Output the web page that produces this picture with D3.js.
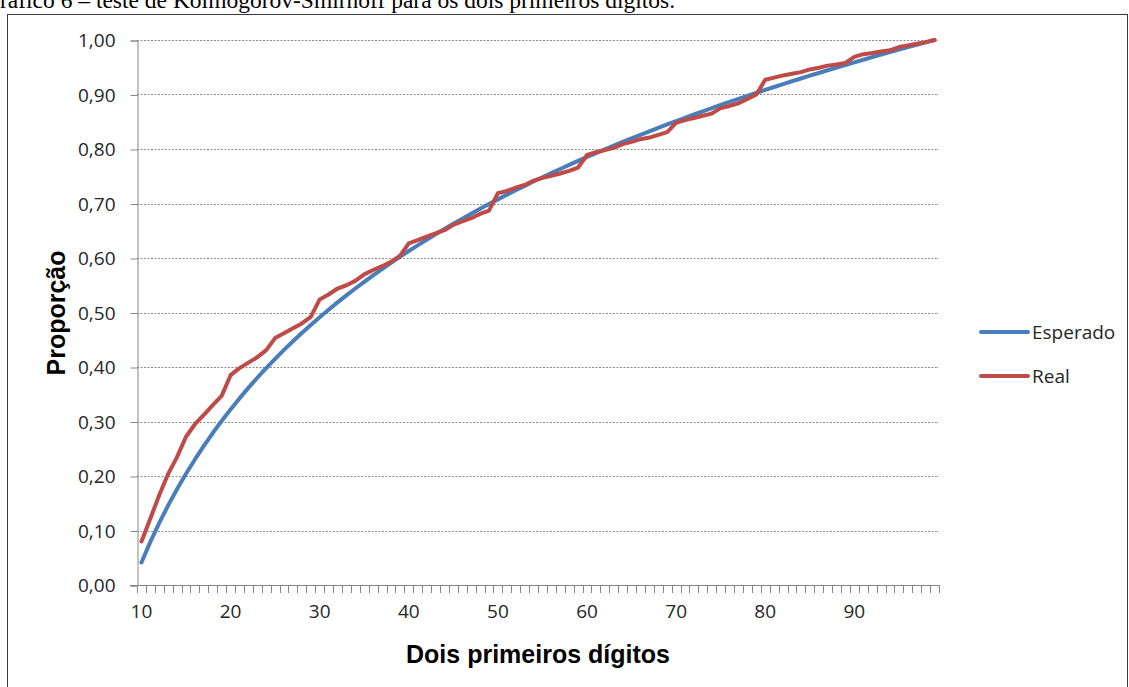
<!DOCTYPE html>
<html>
<head>
<meta charset="utf-8">
<script src="https://cdn.jsdelivr.net/npm/d3@7"></script>
<style>
  html, body { margin: 0; padding: 0; background: #fff; overflow: hidden; }
  svg { display: block; }
</style>
</head>
<body>
<svg id="chart" width="1129" height="687"></svg>
<script>
// Two-leading-digit groups 10..99
const categories = d3.range(10, 100);

// Cumulative proportion expected by Benford's law
const esperado = [
  0.0414, 0.0792, 0.1139, 0.1461, 0.1761, 0.2041, 0.2304, 0.2553, 0.2788, 0.3010,
  0.3222, 0.3424, 0.3617, 0.3802, 0.3979, 0.4150, 0.4314, 0.4472, 0.4624, 0.4771,
  0.4914, 0.5051, 0.5185, 0.5315, 0.5441, 0.5563, 0.5682, 0.5798, 0.5911, 0.6021,
  0.6128, 0.6232, 0.6335, 0.6435, 0.6532, 0.6628, 0.6721, 0.6812, 0.6902, 0.6990,
  0.7076, 0.7160, 0.7243, 0.7324, 0.7404, 0.7482, 0.7559, 0.7634, 0.7709, 0.7782,
  0.7853, 0.7924, 0.7993, 0.8062, 0.8129, 0.8195, 0.8261, 0.8325, 0.8388, 0.8451,
  0.8513, 0.8573, 0.8633, 0.8692, 0.8751, 0.8808, 0.8865, 0.8921, 0.8976, 0.9031,
  0.9085, 0.9138, 0.9191, 0.9243, 0.9294, 0.9345, 0.9395, 0.9445, 0.9494, 0.9542,
  0.9590, 0.9638, 0.9685, 0.9731, 0.9777, 0.9823, 0.9868, 0.9912, 0.9956, 1.0000
];

// Observed cumulative proportion
const real = [
  0.080, 0.122, 0.165, 0.204, 0.235, 0.272, 0.295, 0.312, 0.330, 0.347,
  0.385, 0.398, 0.408, 0.418, 0.431, 0.453, 0.462, 0.471, 0.480, 0.492,
  0.524, 0.533, 0.544, 0.550, 0.558, 0.570, 0.578, 0.585, 0.593, 0.604,
  0.627, 0.633, 0.639, 0.645, 0.651, 0.661, 0.667, 0.673, 0.681, 0.687,
  0.719, 0.723, 0.729, 0.734, 0.742, 0.747, 0.751, 0.755, 0.760, 0.766,
  0.789, 0.794, 0.798, 0.802, 0.809, 0.813, 0.818, 0.821, 0.826, 0.831,
  0.848, 0.853, 0.857, 0.861, 0.865, 0.875, 0.879, 0.884, 0.892, 0.900,
  0.927, 0.931, 0.935, 0.938, 0.941, 0.946, 0.949, 0.953, 0.955, 0.958,
  0.969, 0.974, 0.976, 0.979, 0.981, 0.987, 0.990, 0.993, 0.996, 1.000
];

const xLabels = [10, 20, 30, 40, 50, 60, 70, 80, 90];
const yTicks = [0, 0.1, 0.2, 0.3, 0.4, 0.5, 0.6, 0.7, 0.8, 0.9, 1.0];

const seriesNames = ["Esperado", "Real"];
const seriesColors = ["#4A7EBB", "#BE4B48"];

const titleText = "Gráfico 6 – teste de Kolmogorov-Smirnoff para os dois primeiros dígitos.";
const xTitle = "Dois primeiros dígitos";
const yTitle = "Proporção";

const svg = d3.select("#chart");
const axisColor = "#868686";
const labelFont = "'Open Sans', 'Noto Sans', sans-serif";
const labelSize = 19;

// Plot area
const plot = { left: 137, right: 939, top: 40, bottom: 585 };

const x = d3.scaleBand().domain(categories).range([plot.left, plot.right]).padding(0);
const xc = d => x(d) + x.bandwidth() / 2;
const y = d3.scaleLinear().domain([0, 1]).range([plot.bottom, plot.top]);

const ptBR = d3.formatLocale({ decimal: ",", thousands: ".", grouping: [3], currency: ["R$", ""] });
const fmt = ptBR.format(".2f");

// Caption above the frame (the page crops its first letter and top)
const cap = svg.append("text")
  .attr("y", 8)
  .attr("font-family", "'Liberation Serif', 'Times New Roman', serif")
  .attr("font-size", 23.5)
  .attr("fill", "#000")
  .text(titleText);
const gWidth = cap.node().getSubStringLength(0, 1);
cap.attr("x", -gWidth);

// Frame
svg.append("rect")
  .attr("x", 7.5).attr("y", 14.5)
  .attr("width", 1120).attr("height", 700)
  .attr("fill", "none")
  .attr("stroke", "#3a3a3a")
  .attr("stroke-width", 1);

// Gridlines
svg.append("g")
  .selectAll("line")
  .data(yTicks.filter(v => v > 0))
  .join("line")
  .attr("x1", plot.left).attr("x2", plot.right)
  .attr("y1", d => Math.round(y(d)) + 0.5).attr("y2", d => Math.round(y(d)) + 0.5)
  .attr("stroke", "#8c8c8c")
  .attr("stroke-width", 1)
  .attr("stroke-dasharray", "2,1.5");

// Y axis
const yAxis = d3.axisLeft(y).tickValues(yTicks).tickSize(7).tickPadding(15).tickFormat(fmt);
const gy = svg.append("g")
  .attr("transform", `translate(${plot.left + 0.5},0.5)`)
  .call(yAxis);
gy.select(".domain").attr("stroke", axisColor);
gy.selectAll(".tick line").attr("stroke", axisColor);
gy.selectAll(".tick text")
  .attr("font-family", labelFont)
  .attr("font-size", labelSize)
  .attr("fill", "#262626");

// X axis: baseline and category-boundary ticks
const gx = svg.append("g");
gx.append("line")
  .attr("x1", plot.left - 7).attr("x2", plot.right + 0.5)
  .attr("y1", plot.bottom + 0.5).attr("y2", plot.bottom + 0.5)
  .attr("stroke", axisColor);
const boundaries = categories.map(d => x(d)).concat([plot.right]);
gx.selectAll("line.tk")
  .data(boundaries)
  .join("line")
  .attr("class", "tk")
  .attr("x1", d => Math.round(d) + 0.5).attr("x2", d => Math.round(d) + 0.5)
  .attr("y1", plot.bottom).attr("y2", plot.bottom + 8)
  .attr("stroke", axisColor);

const xAxis = d3.axisBottom(x).tickValues(xLabels).tickSize(0).tickPadding(20);
const gxl = svg.append("g")
  .attr("transform", `translate(0,${plot.bottom})`)
  .call(xAxis);
gxl.select(".domain").remove();
gxl.selectAll(".tick text")
  .attr("font-family", labelFont)
  .attr("font-size", labelSize)
  .attr("fill", "#262626");

// Axis titles
svg.append("text")
  .attr("x", 538).attr("y", 663)
  .attr("text-anchor", "middle")
  .attr("font-family", "'Liberation Sans', Arial, sans-serif")
  .attr("font-weight", "bold")
  .attr("font-size", 25)
  .attr("fill", "#000")
  .text(xTitle);

svg.append("text")
  .attr("transform", "translate(65,313) rotate(-90)")
  .attr("text-anchor", "middle")
  .attr("font-family", "'Liberation Sans', Arial, sans-serif")
  .attr("font-weight", "bold")
  .attr("font-size", 25)
  .attr("fill", "#000")
  .text(yTitle);

// Series lines
const line = d3.line()
  .x((d, i) => xc(categories[i]))
  .y(d => y(d));

[esperado, real].forEach((vals, k) => {
  svg.append("path")
    .datum(vals)
    .attr("d", line)
    .attr("fill", "none")
    .attr("stroke", seriesColors[k])
    .attr("stroke-width", 4)
    .attr("stroke-linejoin", "round")
    .attr("stroke-linecap", "round");
});

// Legend
const legend = svg.append("g");
seriesNames.forEach((name, k) => {
  const ly = 332 + k * 44;
  legend.append("line")
    .attr("x1", 981).attr("x2", 1028)
    .attr("y1", ly).attr("y2", ly)
    .attr("stroke", seriesColors[k])
    .attr("stroke-width", 4)
    .attr("stroke-linecap", "round");
  legend.append("text")
    .attr("x", 1032).attr("y", ly + 7)
    .attr("font-family", labelFont)
    .attr("font-size", labelSize)
    .attr("fill", "#262626")
    .text(name);
});
</script>
</body>
</html>
